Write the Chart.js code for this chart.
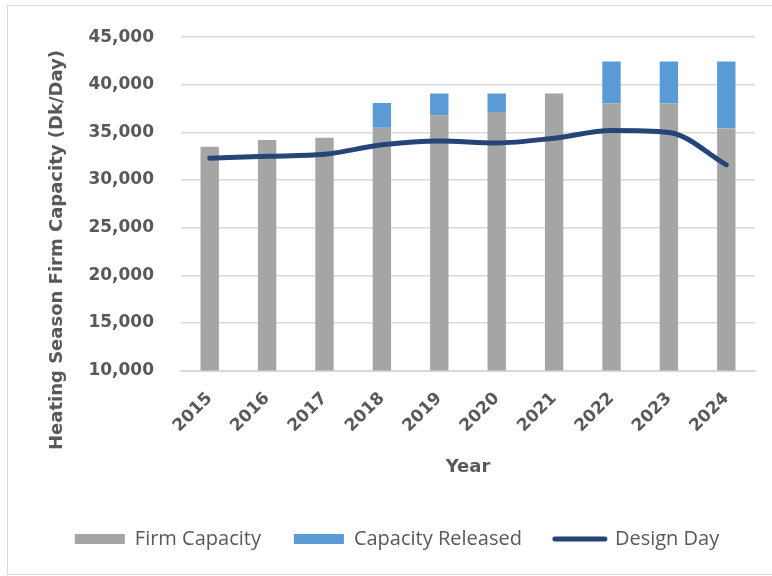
<!DOCTYPE html>
<html>
<head>
<meta charset="utf-8">
<script src="https://cdn.jsdelivr.net/npm/chart.js@4"></script>
<style>
  html, body { margin: 0; padding: 0; background: #fff; }
  #wrap { position: relative; width: 772px; height: 576px; }
  #frame { position: absolute; left: 7px; top: 5px; width: 780px; height: 568px;
           border: 1.5px solid #d9d9d9; pointer-events: none; }
</style>
</head>
<body>
<div id="wrap">
  <canvas id="chart" width="772" height="576"></canvas>
  <div id="frame"></div>
</div>
<script>
// years on the x axis
const years = ['2015', '2016', '2017', '2018', '2019', '2020', '2021', '2022', '2023', '2024'];
// Dk/Day
const firmCapacity = [33500, 34200, 34450, 35500, 36800, 37150, 39100, 38050, 38050, 35400];
const capacityReleased = [0, 0, 0, 2600, 2300, 1950, 0, 4400, 4400, 7050];
const designDay = [32300, 32500, 32700, 33700, 34100, 33900, 34400, 35200, 35000, 31600];
const yTitle = 'Heating Season Firm Capacity (Dk/Day)';

const textGrey = '#595959';

// y axis title drawn by hand so it sits lower than the axis centre, like the original
const yTitlePlugin = {
  id: 'yTitle',
  afterDraw(chart) {
    const ctx = chart.ctx;
    ctx.save();
    ctx.translate(57, 250);
    ctx.rotate(-Math.PI / 2);
    ctx.font = 'bold 18px "DejaVu Sans"';
    ctx.fillStyle = textGrey;
    ctx.textAlign = 'center';
    ctx.textBaseline = 'middle';
    ctx.fillText(yTitle, 0, 0);
    ctx.restore();
  }
};

new Chart(document.getElementById('chart'), {
  type: 'bar',
  data: {
    labels: years,
    datasets: [
      {
        label: 'Firm Capacity',
        data: firmCapacity,
        backgroundColor: '#a5a5a5',
        stack: 'cap',
        order: 1,
        barPercentage: 0.32,
        categoryPercentage: 1
      },
      {
        label: 'Capacity Released',
        data: capacityReleased,
        backgroundColor: '#5b9bd5',
        stack: 'cap',
        order: 1,
        barPercentage: 0.32,
        categoryPercentage: 1
      },
      {
        type: 'line',
        label: 'Design Day',
        data: designDay,
        borderColor: '#264478',
        backgroundColor: '#264478',
        borderWidth: 5,
        borderCapStyle: 'round',
        borderJoinStyle: 'round',
        pointRadius: 0,
        cubicInterpolationMode: 'monotone',
        stack: 'dd',
        order: 0
      }
    ]
  },
  options: {
    responsive: false,
    animation: false,
    layout: { padding: { left: 39, right: 17, top: 30, bottom: 17 } },
    plugins: {
      tooltip: { enabled: false },
      legend: {
        position: 'bottom',
        labels: {
          font: { family: 'Open Sans', size: 20 },
          color: textGrey,
          usePointStyle: true,
          pointStyleWidth: 50,
          boxHeight: 10,
          padding: 33,
          sort: (a, b) => a.datasetIndex - b.datasetIndex,
          generateLabels(chart) {
            const items = Chart.defaults.plugins.legend.labels.generateLabels(chart);
            return items.map(it => {
              const ds = chart.data.datasets[it.datasetIndex];
              if (ds.type === 'line') {
                it.pointStyle = 'line';
                it.strokeStyle = ds.borderColor;
                it.lineWidth = 5;
                it.lineCap = 'round';
              } else {
                it.pointStyle = 'rect';
                it.fillStyle = ds.backgroundColor;
                it.lineWidth = 0;
              }
              return it;
            });
          }
        }
      }
    },
    scales: {
      x: {
        stacked: true,
        grid: { display: false },
        border: { display: true, color: '#d9d9d9', width: 2 },
        ticks: {
          color: textGrey,
          font: { family: 'DejaVu Sans', size: 17, weight: 'bold' },
          minRotation: 45,
          maxRotation: 45,
          padding: 10
        },
        title: {
          display: true,
          text: 'Year',
          color: textGrey,
          font: { family: 'DejaVu Sans', size: 18, weight: 'bold' },
          padding: { top: 10, bottom: 18 }
        }
      },
      y: {
        stacked: true,
        min: 10000,
        max: 45000,
        afterFit(scale) { scale.width = 142; },
        border: { display: false },
        grid: { color: '#d9d9d9', lineWidth: 1.5, drawTicks: false },
        ticks: {
          stepSize: 5000,
          padding: 27,
          color: textGrey,
          font: { family: 'DejaVu Sans', size: 17, weight: 'bold' },
          callback: v => v.toLocaleString('en-US')
        }
      }
    }
  },
  plugins: [yTitlePlugin]
});
</script>
</body>
</html>
